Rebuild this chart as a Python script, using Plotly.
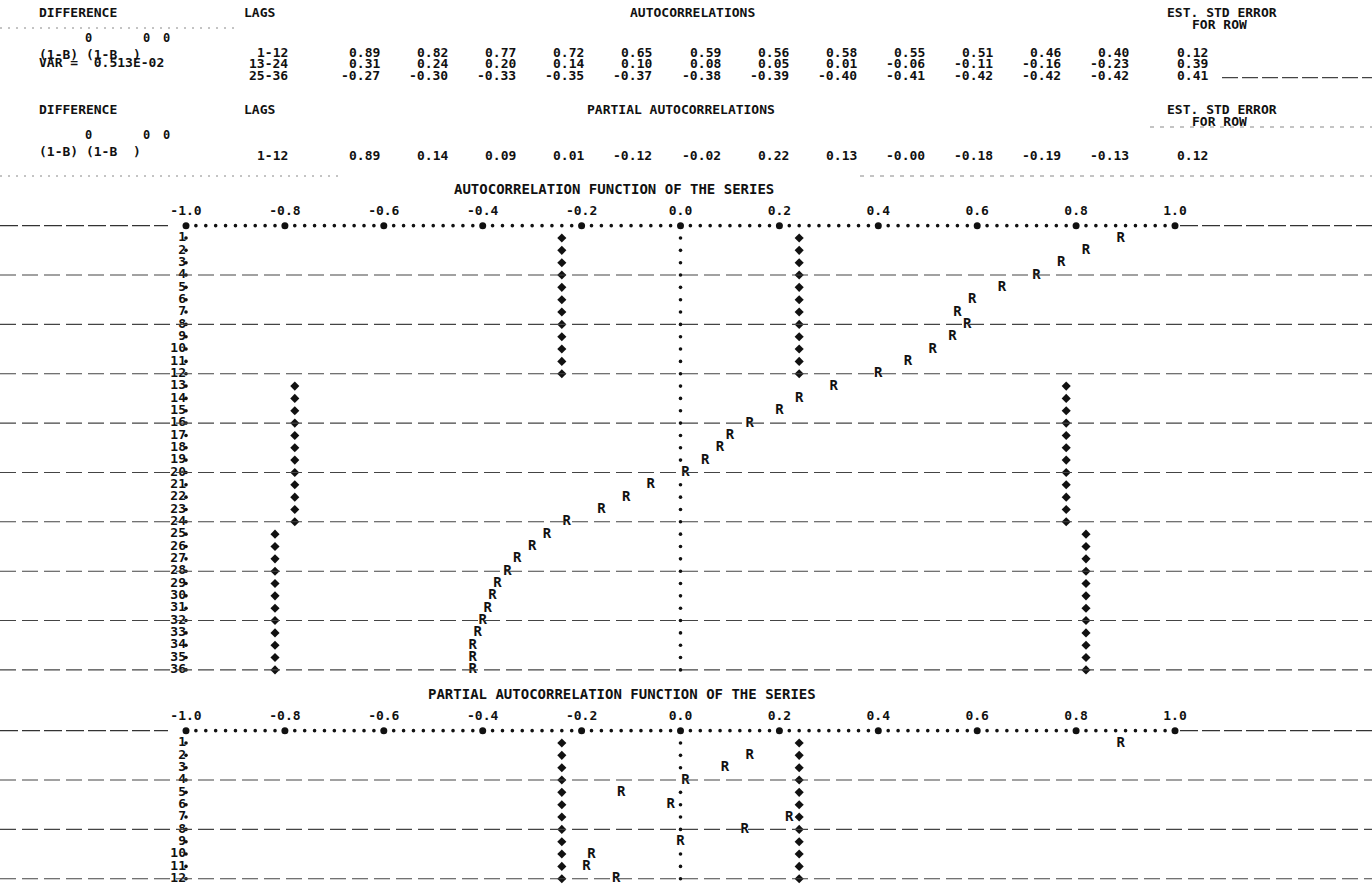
import plotly.graph_objects as go

# ---------------- data ----------------
acf_lags = list(range(1, 37))
acf_values = [0.89, 0.82, 0.77, 0.72, 0.65, 0.59, 0.56, 0.58, 0.55, 0.51, 0.46, 0.40,
              0.31, 0.24, 0.20, 0.14, 0.10, 0.08, 0.05, 0.01, -0.06, -0.11, -0.16, -0.23,
              -0.27, -0.30, -0.33, -0.35, -0.37, -0.38, -0.39, -0.40, -0.41, -0.42, -0.42, -0.42]
acf_std_err = [0.12, 0.39, 0.41]          # one per row of 12 lags
pacf_lags = list(range(1, 13))
pacf_values = [0.89, 0.14, 0.09, 0.01, -0.12, -0.02, 0.22, 0.13, -0.00, -0.18, -0.19, -0.13]
pacf_std_err = [0.12]
lag_rows = ["1-12", "13-24", "25-36"]
tick_vals = [-1.0, -0.8, -0.6, -0.4, -0.2, 0.0, 0.2, 0.4, 0.6, 0.8, 1.0]
tick_labels = ["-1.0", "-0.8", "-0.6", "-0.4", "-0.2", "0.0", "0.2", "0.4", "0.6", "0.8", "1.0"]
var_text = "0.513E-02"

# ---------------- geometry (pixels) ----------------
W, H = 1372, 885
PX0, PXU = 680.5, 494.5       # pixel of correlation 0, pixels per unit
ROW = 12.34                   # printer line height
ACF_ROW1 = 238.0
PACF_ROW1 = 743.0
MONO = "DejaVu Sans Mono"
INK = "#111111"
FS = 13

xr = [(0 - PX0) / PXU, (W - PX0) / PXU]
y1r = [1 + (H - ACF_ROW1) / ROW, 1 - ACF_ROW1 / ROW]
y2r = [1 + (H - PACF_ROW1) / ROW, 1 - PACF_ROW1 / ROW]

fig = go.Figure()
annotations = []
shapes = []


def font(size=FS):
    return dict(family=MONO, size=size, color=INK, weight="bold")


def txt(px, py, s, anchor="left", size=FS):
    annotations.append(dict(x=px / W, y=1 - py / H, xref="paper", yref="paper", text=s,
                            showarrow=False, xanchor=anchor, yanchor="middle",
                            font=font(size)))


def hline(py, x0=0, x1=W, color="#555555", dash="8px,4px", width=1.1):
    shapes.append(dict(type="line", xref="paper", yref="paper", x0=x0 / W, x1=x1 / W,
                       y0=1 - py / H, y1=1 - py / H,
                       line=dict(color=color, width=width, dash=dash)))


# ---------------- header block ----------------
def header_block(y_title, title, title_x, rows, std_errs, is_acf):
    txt(37, y_title, "DIFFERENCE")
    txt(242, y_title, "LAGS")
    txt(title_x, y_title, title)
    txt(1165, y_title, "EST. STD ERROR")
    txt(1190, y_title + 12, "FOR ROW")
    ys = y_title + 25
    txt(88, ys, "0", "center", 12)
    txt(146, ys, "0", "center", 12)
    txt(166, ys, "0", "center", 12)
    txt(37, y_title + 41, "(1-B) (1-B  )")
    if is_acf:
        txt(37, y_title + 50, "VAR =  " + var_text)
    for r, (vals, se) in enumerate(zip(rows, std_errs)):
        py = y_title + 39 + r * 11.8 if is_acf else y_title + 45
        txt(290, py, lag_rows[r], "right")
        for j, v in enumerate(vals):
            txt(382 + 68.1 * j, py, f"{v:.2f}", "right")
        txt(1210, py, f"{se:.2f}", "right")


acf_rows = [acf_values[0:12], acf_values[12:24], acf_values[24:36]]
header_block(13, "AUTOCORRELATIONS", 628, acf_rows, acf_std_err, True)
header_block(110, "PARTIAL AUTOCORRELATIONS", 585, [pacf_values], pacf_std_err, False)

# faint paper rules in the header
hline(28, 0, 235, "#888888", "2px,6px", 1)
hline(77.6, 1222, W, "#444444", "16px,4px", 1.2)
hline(127, 1150, W, "#888888", "4px,6px", 1)
hline(176, 0, 340, "#888888", "2px,6px", 1)
hline(176, 860, W, "#888888", "4px,6px", 1)

# ---------------- correlogram panels ----------------
axis_dots = [round(-1 + 0.02 * i, 2) for i in range(101)]


def panel(lags, values, std_errs, yaxis, title, title_px, title_py):
    txt(title_px, title_py, title, "center", 14)
    # axis row (lag 0)
    fig.add_trace(go.Scatter(x=axis_dots, y=[0] * len(axis_dots), mode="markers",
                             marker=dict(size=3.6, color=INK), yaxis=yaxis,
                             hoverinfo="skip", showlegend=False))
    fig.add_trace(go.Scatter(x=tick_vals, y=[0] * len(tick_vals), mode="markers",
                             marker=dict(size=7, color=INK), yaxis=yaxis,
                             hoverinfo="skip", showlegend=False))
    fig.add_trace(go.Scatter(x=tick_vals, y=[-1.1] * len(tick_vals), mode="text",
                             text=tick_labels, textposition="middle center",
                             textfont=font(FS), yaxis=yaxis,
                             hoverinfo="skip", showlegend=False))
    # row labels and left border
    fig.add_trace(go.Scatter(x=[-1.0] * len(lags), y=lags, mode="text",
                             text=[str(k) for k in lags], textposition="middle left",
                             textfont=font(FS), yaxis=yaxis,
                             hoverinfo="skip", showlegend=False))
    fig.add_trace(go.Scatter(x=[-1.0] * len(lags), y=lags, mode="markers",
                             marker=dict(size=3.6, color=INK), yaxis=yaxis,
                             hoverinfo="skip", showlegend=False))
    # zero line
    zl = [k for k, v in zip(lags, values) if abs(v) > 0.015]
    fig.add_trace(go.Scatter(x=[0.0] * len(zl), y=zl, mode="markers",
                             marker=dict(size=3.6, color=INK), yaxis=yaxis,
                             hoverinfo="skip", showlegend=False))
    # two standard error limits
    lim = [2 * std_errs[(k - 1) // 12] for k in lags]
    fig.add_trace(go.Scatter(x=[-b for b in lim] + lim, y=lags + lags, mode="markers",
                             marker=dict(size=7, symbol="diamond", color=INK), yaxis=yaxis,
                             hoverinfo="skip", showlegend=False))
    # correlations
    fig.add_trace(go.Scatter(x=values, y=lags, mode="text", text=["R"] * len(lags),
                             textposition="middle center", textfont=font(14),
                             yaxis=yaxis, showlegend=False,
                             hovertemplate="lag %{y}: %{x:.2f}<extra></extra>"))


panel(acf_lags, acf_values, acf_std_err, "y",
      "AUTOCORRELATION FUNCTION OF THE SERIES", 614, 189)
panel(pacf_lags, pacf_values, pacf_std_err, "y2",
      "PARTIAL AUTOCORRELATION FUNCTION OF THE SERIES", 622, 694)

# paper rules through the correlogram rows
acf_axis_py = ACF_ROW1 - ROW
hline(acf_axis_py, 0, 168, "#333333", "18px,4px", 1.3)
hline(acf_axis_py, 1180, W, "#333333", "18px,4px", 1.3)
for k in range(4, 37, 4):
    hline(ACF_ROW1 + (k - 1) * ROW, 0, W, "#444444", "16px,6px", 1.1)
pacf_axis_py = PACF_ROW1 - ROW
hline(pacf_axis_py, 0, 168, "#333333", "18px,4px", 1.3)
hline(pacf_axis_py, 1180, W, "#333333", "18px,4px", 1.3)
for k in range(4, 13, 4):
    hline(PACF_ROW1 + (k - 1) * ROW, 0, W, "#444444", "16px,6px", 1.1)

fig.update_layout(
    width=W, height=H, autosize=False,
    margin=dict(l=0, r=0, t=0, b=0),
    paper_bgcolor="white", plot_bgcolor="white",
    xaxis=dict(range=xr, domain=[0, 1], visible=False, fixedrange=True),
    yaxis=dict(range=y1r, domain=[0, 1], visible=False, fixedrange=True),
    yaxis2=dict(range=y2r, domain=[0, 1], overlaying="y", visible=False, fixedrange=True),
    annotations=annotations, shapes=shapes, showlegend=False,
)

fig.write_html("out.html", config={"displayModeBar": False},
               post_script="document.body.style.margin='0';")
